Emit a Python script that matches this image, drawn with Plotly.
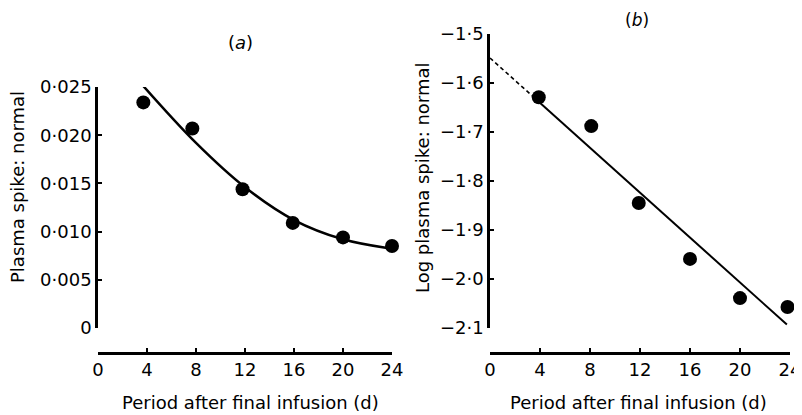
import plotly.graph_objects as go

# page body has an 8px margin; the figure fills the rest of the 802x415 window
OFF = 8
W, H = 802 - OFF, 415 - OFF

# ---- data ----
a_days = [3.7, 7.7, 11.8, 15.9, 20.0, 24.0]
a_ratio = [0.0234, 0.0207, 0.0144, 0.0109, 0.0094, 0.0085]
a_fit_days = [3.7, 8.0, 12.0, 16.0, 20.0, 23.6]
a_fit_ratio = [0.0251, 0.0192, 0.0146, 0.0112, 0.0092, 0.0083]

b_days = [3.9, 8.1, 11.9, 16.0, 20.0, 23.8]
b_log = [-1.629, -1.688, -1.845, -1.959, -2.039, -2.057]
b_fit_dash_days = [0.0, 3.5]
b_fit_dash_log = [-1.549, -1.629]
b_fit_days = [3.5, 23.75]
b_fit_log = [-1.629, -2.093]

x_ticks = [0, 4, 8, 12, 16, 20, 24]
a_yticks = [0, 0.005, 0.010, 0.015, 0.020, 0.025]
a_yticktext = ["0", "0·005", "0·010", "0·015", "0·020", "0·025"]
b_yticks = [-1.5, -1.6, -1.7, -1.8, -1.9, -2.0, -2.1]
b_yticktext = ["−1·5", "−1·6", "−1·7", "−1·8", "−1·9", "−2·0", "−2·1"]

FONT = "DejaVu Sans"

def px(x):
    return (x - OFF) / W

def py(y):
    return 1 - (y - OFF) / H

fig = go.Figure()

mk = dict(color="black", size=14)
fig.add_trace(go.Scatter(x=a_fit_days, y=a_fit_ratio, mode="lines",
                         line=dict(color="black", width=2.5, shape="spline", smoothing=1.0),
                         xaxis="x", yaxis="y", cliponaxis=False, showlegend=False))
fig.add_trace(go.Scatter(x=a_days, y=a_ratio, mode="markers", marker=mk,
                         xaxis="x", yaxis="y", cliponaxis=False, showlegend=False))
fig.add_trace(go.Scatter(x=b_fit_dash_days, y=b_fit_dash_log, mode="lines",
                         line=dict(color="black", width=1.6, dash="4px,3px"),
                         xaxis="x2", yaxis="y2", cliponaxis=False, showlegend=False))
fig.add_trace(go.Scatter(x=b_fit_days, y=b_fit_log, mode="lines", line=dict(color="black", width=2),
                         xaxis="x2", yaxis="y2", cliponaxis=False, showlegend=False))
fig.add_trace(go.Scatter(x=b_days, y=b_log, mode="markers", marker=mk,
                         xaxis="x2", yaxis="y2", cliponaxis=False, showlegend=False))

axcommon = dict(showline=True, linecolor="black", linewidth=2.5, ticks="inside", ticklen=4, tickwidth=2,
                tickcolor="black", showgrid=False, zeroline=False, automargin=False,
                tickfont=dict(family=FONT, size=18, color="black"), fixedrange=True)

fig.update_layout(
    width=W, height=H,
    margin=dict(l=0, r=0, t=0, b=0, autoexpand=False),
    paper_bgcolor="white", plot_bgcolor="white",
    font=dict(family=FONT, size=18, color="black"),
    xaxis=dict(domain=[px(98), px(392)], range=[0, 24], anchor="free", position=py(353),
               tickvals=x_ticks, ticktext=[str(v) for v in x_ticks], **axcommon),
    yaxis=dict(domain=[py(328), py(87)], range=[0, 0.025], anchor="x",
               tickvals=a_yticks, ticktext=a_yticktext, **axcommon),
    xaxis2=dict(domain=[px(490), px(790)], range=[0, 24], anchor="free", position=py(353),
                tickvals=x_ticks, ticktext=[str(v) for v in x_ticks], **axcommon),
    yaxis2=dict(domain=[py(328), py(34)], range=[-2.1, -1.5], anchor="x2",
                tickvals=b_yticks, ticktext=b_yticktext, **axcommon),
)

ann = []
def add_text(text, x, y, angle=0, size=18):
    ann.append(dict(text=text, x=px(x), y=py(y), xref="paper", yref="paper", showarrow=False,
                    xanchor="center", yanchor="middle", textangle=angle, borderpad=0,
                    font=dict(family=FONT, size=size, color="black")))

add_text("(<i>a</i>)", 240, 43)
add_text("(<i>b</i>)", 637, 20, size=17)
add_text("Plasma spike: normal", 17, 187, angle=-90)
add_text("Log plasma spike: normal", 422, 178, angle=-90)
add_text("Period after final infusion (d)", 250, 402)
add_text("Period after final infusion (d)", 638, 402)
fig.update_layout(annotations=ann)

fig.write_html("out.html")
